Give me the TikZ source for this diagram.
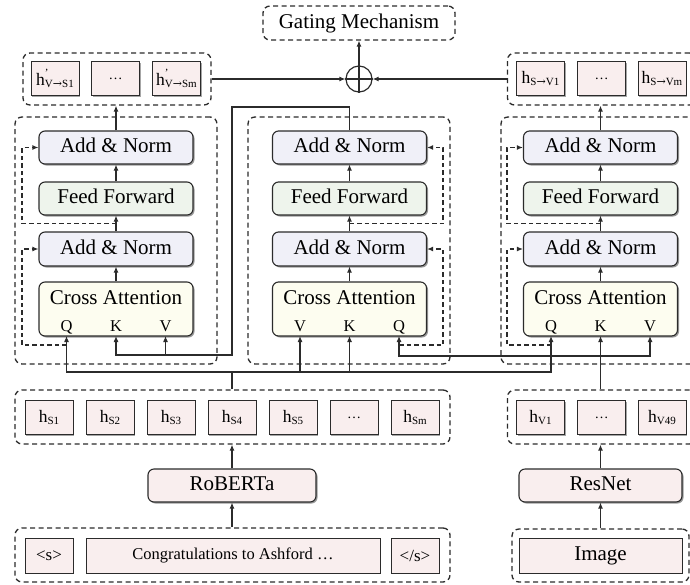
\documentclass[tikz,border=0pt]{standalone}
\usepackage{fontspec}
\setmainfont{Liberation Serif}
\newfontfamily\arrfont{DejaVu Serif}
\usetikzlibrary{shadows,arrows.meta,calc}
\definecolor{ln}{HTML}{2B2B2B}
\definecolor{pinkf}{HTML}{F9EEEE}
\definecolor{anf}{HTML}{F0F0F8}
\definecolor{fff}{HTML}{EEF4EC}
\definecolor{caf}{HTML}{FDFDF0}
\newcommand{\ftA}{\fontsize{21}{24}\selectfont}
\newcommand{\ftQ}{\fontsize{16.5}{19}\selectfont}
\newcommand{\hsub}[1]{{\fontsize{17.5}{17}\selectfont h}\raisebox{-2.5pt}{\fontsize{11}{11}\selectfont #1}}
\newcommand{\hpsub}[1]{{\fontsize{17.5}{17}\selectfont h}\rlap{\raisebox{9pt}{\fontsize{11}{11}\selectfont '}}\raisebox{-2.5pt}{\fontsize{11}{11}\selectfont #1}}
\newcommand{\dotsA}{{\fontsize{14}{14}\selectfont …}}
\newcommand{\encblock}[2]{%
  \node[rb, fill=anf, minimum height=33pt] (#1AN1) at (#2,147.5) {Add \& Norm};
  \node[rb, fill=fff, minimum height=33pt] (#1FF) at (#2,198.5) {Feed Forward};
  \node[rb, fill=anf, minimum height=34pt] (#1AN2) at (#2,249) {Add \& Norm};
  \node[rb, fill=caf, minimum height=54pt] (#1CA) at (#2,309) {};
  \node[font=\ftA, anchor=base, inner sep=0pt] (#1CAt) at (#2,304) {Cross Attention};
  \draw[arr] (#1CA.north) -- (#1AN2.south);
  \draw[arr] (#1AN2.north) -- (#1FF.south);
  \draw[arr] (#1FF.north) -- (#1AN1.south);
}
\begin{document}
\begin{tikzpicture}[x=1pt,y=-1pt,
  grp/.style={draw=ln, line width=1.3pt, dash pattern=on 5pt off 3.5pt, rounded corners=7pt, inner sep=0pt},
  hb/.style={draw=ln, line width=1pt, fill=pinkf, minimum width=48pt, minimum height=34pt, inner sep=0pt,
    drop shadow={shadow xshift=1pt, shadow yshift=-1pt, fill=black, opacity=0.35}},
  rb/.style={draw=ln, line width=1.1pt, rounded corners=6pt, minimum width=154pt, inner sep=0pt,
    drop shadow={shadow xshift=1.5pt, shadow yshift=-1.5pt, fill=black, opacity=0.4},
    font=\ftA, text height=14pt, text depth=4pt},
  qkv/.style={font=\ftQ, anchor=base, inner sep=0pt},
  arr/.style={-{Latex[length=6pt,width=5pt]}, draw=ln, line width=1.1pt},
  res/.style={arr, dash pattern=on 4.5pt off 3pt, line width=1.2pt}]
\useasboundingbox (0,0) rectangle (690,584);

% dashed groups
\node[grp, minimum width=192pt, minimum height=34pt, font=\ftA, text height=14pt, text depth=4pt] (gate) at (359,23) {Gating Mechanism};
\node[grp, minimum width=188pt, minimum height=52pt] (topL) at (117,79) {};
\node[grp, minimum width=189pt, minimum height=52pt] (topR) at (602,79) {};
\node[grp, minimum width=202pt, minimum height=247pt] (blkL) at (116,240.5) {};
\node[grp, minimum width=202pt, minimum height=247pt] (blkM) at (349,240.5) {};
\node[grp, minimum width=202pt, minimum height=247pt] (blkR) at (602,240.5) {};
\node[grp, minimum width=435pt, minimum height=54pt] (hS) at (232.5,417) {};
\node[grp, minimum width=189pt, minimum height=54pt] (hV) at (602,417) {};
\node[grp, minimum width=435pt, minimum height=54pt] (inp) at (232.5,555) {};
\node[grp, minimum width=177pt, minimum height=53pt] (imgG) at (600.5,555.5) {};

% oplus
\node[draw=ln, line width=1.2pt, circle, minimum size=26pt, inner sep=0pt] (op) at (359,79) {};
\draw[ln, line width=1.2pt] (op.north) -- (op.south) (op.west) -- (op.east);

% top token boxes
\node[hb] (tl1) at (55,78.5) {\hpsub{V{\arrfont →}S1}};
\node[hb] (tl2) at (115.5,78.5) {\dotsA};
\node[hb] (tl3) at (176.5,78.5) {\hpsub{V{\arrfont →}Sm}};
\node[hb] (tr1) at (540.5,78.5) {\hsub{S{\arrfont →}V1}};
\node[hb] (tr2) at (601.5,78.5) {\dotsA};
\node[hb] (tr3) at (662,78.5) {\hsub{S{\arrfont →}Vm}};

% encoder blocks
\encblock{l}{116}
\encblock{m}{349.5}
\encblock{r}{600.5}

% ports
\coordinate (lQ) at (66.5,336); \coordinate (lK) at (116,336); \coordinate (lV) at (165.5,336);
\coordinate (mV) at (300,336); \coordinate (mK) at (349.5,336); \coordinate (mQ) at (399,336);
\coordinate (rQ) at (551,336); \coordinate (rK) at (600.5,336); \coordinate (rV) at (650,336);
\node[qkv] (lQt) at (66.5,331) {Q};
\node[qkv] (lKt) at (116,331) {K};
\node[qkv] (lVt) at (165.5,331) {V};
\node[qkv] (mVt) at (300,331) {V};
\node[qkv] (mKt) at (349.5,331) {K};
\node[qkv] (mQt) at (399,331) {Q};
\node[qkv] (rQt) at (551,331) {Q};
\node[qkv] (rKt) at (600.5,331) {K};
\node[qkv] (rVt) at (650,331) {V};

% hidden state boxes
\node[hb] (s1) at (49,417.5) {\hsub{S1}};
\node[hb] (s2) at (110,417.5) {\hsub{S2}};
\node[hb] (s3) at (171,417.5) {\hsub{S3}};
\node[hb] (s4) at (232,417.5) {\hsub{S4}};
\node[hb] (s5) at (293,417.5) {\hsub{S5}};
\node[hb] (s6) at (354,417.5) {\dotsA};
\node[hb] (s7) at (415,417.5) {\hsub{Sm}};
\node[hb] (v1) at (540.5,417.5) {\hsub{V1}};
\node[hb] (v2) at (601.5,417.5) {\dotsA};
\node[hb] (v3) at (662,417.5) {\hsub{V49}};

% encoders
\node[rb, fill=pinkf, minimum width=168pt, minimum height=33pt] (rob) at (232,485.5) {RoBERTa};
\node[rb, fill=pinkf, minimum width=163pt, minimum height=33pt] (resnet) at (600.5,485.5) {ResNet};

% inputs
\node[hb, minimum height=35pt, font=\fontsize{17}{17}\selectfont] (in1) at (49,555.5) {<s>};
\node[hb, minimum width=294pt, minimum height=35pt, font=\fontsize{16.5}{19}\selectfont] (in2) at (233,555.5) {Congratulations to Ashford …};
\node[hb, minimum height=35pt, font=\fontsize{17}{17}\selectfont] (in3) at (415,555.5) {</s>};
\node[hb, minimum width=163pt, minimum height=35pt, font=\ftA, text height=14pt, text depth=4pt] (img) at (600.5,555.5) {Image};

% connectors top
\draw[arr] (op.north) -- (gate.south);
\draw[arr] (topL.east) -- (op.west);
\draw[arr] (topR.west) -- (op.east);
\draw[arr] (lAN1.north) -- (lAN1.north |- topL.south);
\draw[arr] (rAN1.north) -- (rAN1.north |- topR.south);

% middle output into left K,V
\coordinate (m1) at (232,107);
\coordinate (m2) at (232,355);
\draw[arr] (mAN1.north) |- (m1) -- (m2) -| (lK);
\draw[arr] (lV |- m2) -- (lV);

% text bus
\coordinate (tb) at (232,372);
\draw[ln, line width=1.1pt] (tb |- hS.north) -- (tb);
\draw[arr] (tb) -| (lQ);
\draw[arr] (tb) -| (rQ);
\draw[arr] (mV |- tb) -- (mV);
\draw[arr] (mK |- tb) -- (mK);

% image bus
\coordinate (ib) at (600.5,356);
\draw[arr] (rK |- hV.north) -- (rK);
\draw[arr] (ib) -| (mQ);
\draw[arr] (ib) -| (rV);

% residuals
\draw[res] ($(lFF.south)!.5!(lAN2.north)$) -- ++(-94,0) |- (lAN1.west);
\draw[res] ($(lQ)+(0,9)$) -- ++(-44.5,0) |- (lAN2.west);
\draw[res] ($(mFF.south)!.5!(mAN2.north)$) -- ++(93.5,0) |- (mAN1.east);
\draw[res] ($(mQ)+(0,9)$) -- ++(44,0) |- (mAN2.east);
\draw[res] ($(rFF.south)!.5!(rAN2.north)$) -- ++(-93.5,0) |- (rAN1.west);
\draw[res] ($(rQ)+(0,9)$) -- ++(-44,0) |- (rAN2.west);

% bottom
\draw[arr] (rob.south |- inp.north) -- (rob.south);
\draw[arr] (rob.north) -- (rob.north |- hS.south);
\draw[arr] (resnet.south |- imgG.north) -- (resnet.south);
\draw[arr] (resnet.north) -- (resnet.north |- hV.south);
\end{tikzpicture}
\end{document}
